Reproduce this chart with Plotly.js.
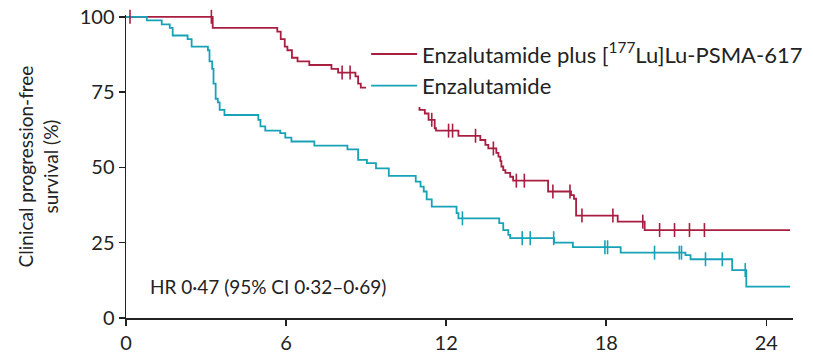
<!DOCTYPE html>
<html>
<head>
<meta charset="utf-8">
<script src="https://cdn.plot.ly/plotly-3.0.1.min.js"></script>
<style>html,body{margin:0;padding:0;background:#fff}#chart{width:813px;height:353px}</style>
</head>
<body>
<div id="chart"></div>
<script>
// Enzalutamide plus [177Lu]Lu-PSMA-617 : step times (months) and survival (%)
const luTime = [0, 3.25, 5.67, 5.8, 5.95, 6.05, 6.22, 6.43, 6.87, 7.7, 7.95, 8.6, 8.7, 8.8, 9.3, 9.8, 10.3, 10.8, 11.0, 11.2, 11.34, 11.57, 11.62, 12.46, 13.28, 13.47, 13.58, 13.88, 13.96, 14.03, 14.07, 14.14, 14.22, 14.4, 14.51, 15.82, 16.68, 16.79, 16.87, 18.43, 19.44, 24.89];
const luSurv = [100, 96.3, 95.1, 92.6, 90.1, 88.9, 86.4, 85.2, 84.0, 82.7, 81.5, 80.2, 77.8, 76.5, 75.3, 74.1, 72.8, 71.6, 69.1, 67.9, 65.8, 63.0, 62.2, 60.5, 59.1, 57.5, 56.3, 54.8, 53.6, 52.1, 50.3, 49.1, 48.2, 46.9, 45.6, 42.0, 40.8, 39.6, 34.0, 32.0, 29.2, 29.2];
const luCensor = [0.15, 3.2, 8.1, 8.4, 11.46, 12.09, 12.24, 13.1, 13.77, 14.63, 14.93, 16.0, 16.64, 17.09, 18.25, 19.37, 20.0, 20.56, 21.12, 21.68];

// Enzalutamide : step times (months) and survival (%)
const enzTime = [0, 0.78, 1.34, 1.64, 1.75, 2.31, 2.46, 3.07, 3.13, 3.23, 3.28, 3.36, 3.44, 3.51, 3.69, 4.96, 5.04, 5.22, 5.78, 5.97, 6.2, 7.06, 8.3, 8.7, 9.03, 9.37, 9.85, 10.86, 11.04, 11.16, 11.27, 11.46, 12.39, 12.46, 13.99, 14.14, 14.33, 14.4, 16.05, 16.75, 18.54, 20.97, 21.16, 22.72, 23.25, 24.89];
const enzSurv = [100, 98.8, 97.5, 96.3, 93.8, 92.6, 90.1, 88.9, 85.2, 82.7, 77.8, 72.8, 71.6, 69.1, 67.4, 65.8, 63.6, 62.2, 61.4, 59.9, 58.6, 57.2, 56.0, 52.5, 51.4, 49.7, 47.2, 45.3, 43.6, 42.0, 39.4, 37.0, 34.8, 33.1, 31.5, 29.2, 27.6, 26.5, 25.0, 23.5, 21.7, 20.9, 19.5, 15.9, 10.4, 10.4];
const enzCensor = [12.61, 14.85, 15.15, 16.03, 17.95, 18.05, 19.81, 20.74, 20.82, 21.72, 22.35, 23.21];

const xTicks = [0, 6, 12, 18, 24];
const yTicks = [0, 25, 50, 75, 100];
const seriesNames = ['Enzalutamide plus [<sup>177</sup>Lu]Lu-PSMA-617', 'Enzalutamide'];
const hrText = 'HR 0·47 (95% CI 0·32–0·69)';

const RED = '#a81e41';
const CYAN = '#17a2b8';
const FONT = 'Lato, "Open Sans", sans-serif';

function survAt(times, surv, t) {
  let s = surv[0];
  for (let i = 0; i < times.length; i++) { if (times[i] <= t) s = surv[i]; }
  return s;
}

const traces = [
  {x: luTime, y: luSurv, mode: 'lines', line: {shape: 'hv', color: RED, width: 1.8}, name: seriesNames[0], legendgroup: 'a'},
  {x: enzTime, y: enzSurv, mode: 'lines', line: {shape: 'hv', color: CYAN, width: 1.8}, name: seriesNames[1], legendgroup: 'b'},
  {x: luCensor, y: luCensor.map(t => survAt(luTime, luSurv, t)), mode: 'markers', showlegend: false, cliponaxis: false,
   marker: {symbol: 'line-ns-open', size: 10, color: RED, line: {color: RED, width: 1.6}}, hoverinfo: 'skip'},
  {x: enzCensor, y: enzCensor.map(t => survAt(enzTime, enzSurv, t)), mode: 'markers', showlegend: false, cliponaxis: false,
   marker: {symbol: 'line-ns-open', size: 10, color: CYAN, line: {color: CYAN, width: 1.6}}, hoverinfo: 'skip'}
];

const layout = {
  width: 813, height: 353,
  margin: {l: 126, r: 20, t: 15, b: 35, autoexpand: false},
  paper_bgcolor: '#fff', plot_bgcolor: '#fff',
  font: {family: FONT, color: '#222', size: 20},
  showlegend: true,
  legend: {x: 0.36, y: 0.94, xanchor: 'left', yanchor: 'top', bgcolor: '#fff', borderwidth: 0, itemwidth: 46,
           font: {family: FONT, size: 22, color: '#222'}, traceorder: 'grouped', tracegroupgap: 0},
  xaxis: {range: [0, 25], tickvals: xTicks, ticktext: xTicks.map(String), showline: true, linecolor: '#222', linewidth: 1.5,
          ticks: 'outside', ticklen: 6, tickwidth: 1.5, tickcolor: '#222', showgrid: false, zeroline: false,
          tickfont: {size: 20}},
  yaxis: {range: [0, 100.6], tickvals: yTicks, ticktext: yTicks.map(String), showline: true, linecolor: '#222', linewidth: 1.5,
          ticks: 'outside', ticklen: 6, tickwidth: 1.5, tickcolor: '#222', showgrid: false, zeroline: false,
          tickfont: {size: 20},
          title: {text: 'Clinical progression-free<br>survival (%)', font: {size: 19}, standoff: 16}},
  annotations: [{xref: 'paper', yref: 'y', x: 0.033, y: 10.3, xanchor: 'left', yanchor: 'middle', showarrow: false,
                 text: hrText, font: {size: 19, color: '#222'}}]
};

Plotly.newPlot('chart', traces, layout, {displayModeBar: false, staticPlot: true});
</script>
</body>
</html>
